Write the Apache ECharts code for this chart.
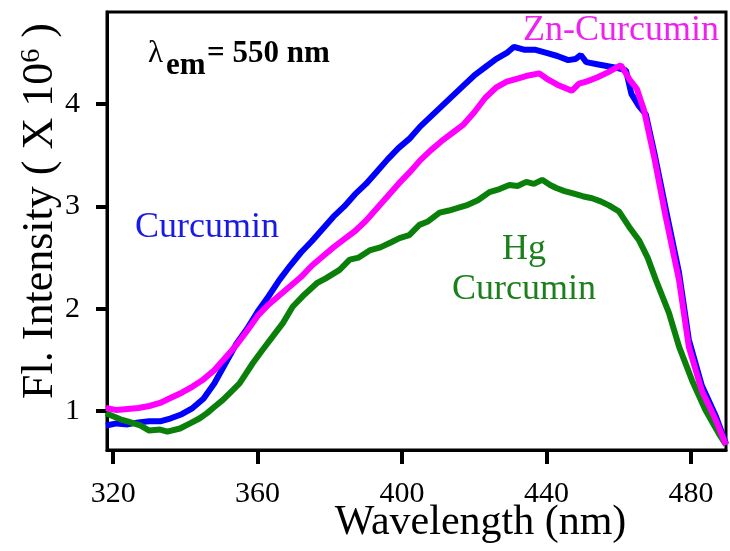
<!DOCTYPE html>
<html>
<head>
<meta charset="utf-8">
<script src="https://cdn.jsdelivr.net/npm/echarts@6/dist/echarts.min.js"></script>
<style>
  html, body { margin: 0; padding: 0; background: #fff; }
  #chart { width: 730px; height: 551px; }
</style>
</head>
<body>
<div id="chart"></div>
<script>
// tick labels
const xTicks = [320, 360, 400, 440, 480]
const yTicks = [1, 2, 3, 4]

// Curcumin (blue)
const curcuminWl = [318, 321, 324, 327, 330, 333, 336, 339, 342, 345, 348, 351, 354, 357, 360, 363, 366, 369, 372, 375, 378, 381, 384, 387, 390, 393, 396, 399, 402, 405, 408, 411, 414, 417, 420, 423, 426, 429, 431, 434, 437, 440, 443, 446, 448, 449.5, 451, 454, 457, 460, 462, 463.5, 465.6, 467.5, 470, 473, 476.7, 479.4, 483, 486.9, 489.7]
const curcuminVal = [0.86, 0.88, 0.87, 0.89, 0.9, 0.9, 0.93, 0.97, 1.03, 1.12, 1.27, 1.46, 1.65, 1.8, 1.97, 2.12, 2.28, 2.42, 2.55, 2.66, 2.78, 2.9, 3.0, 3.12, 3.22, 3.34, 3.46, 3.57, 3.66, 3.78, 3.88, 3.98, 4.08, 4.18, 4.28, 4.36, 4.44, 4.5, 4.56, 4.53, 4.53, 4.5, 4.47, 4.43, 4.44, 4.48, 4.41, 4.39, 4.37, 4.35, 4.33, 4.1, 3.98, 3.9, 3.5, 2.98, 2.35, 1.7, 1.25, 0.95, 0.68]

// Hg-Curcumin (green)
const hgWl = [318, 320, 322, 324, 327.5, 330, 333, 335, 338.5, 341.3, 344, 346, 348, 350.4, 353, 355, 358.7, 361.4, 364, 367, 369.7, 373, 376.4, 379, 382.7, 385.5, 388, 391, 394, 397, 399.3, 402, 404.8, 407, 410.4, 413, 415, 417.8, 421, 424.2, 427, 429.7, 432, 434.4, 436.5, 438.8, 441, 442.7, 445, 447.1, 450, 452.6, 455, 457.3, 460.1, 462.9, 465.6, 468, 470.3, 473.9, 476.7, 480.3, 484, 487.7, 489.7]
const hgVal = [0.98, 0.95, 0.92, 0.9, 0.86, 0.81, 0.82, 0.8, 0.83, 0.88, 0.93, 0.98, 1.04, 1.11, 1.2, 1.27, 1.47, 1.6, 1.72, 1.86, 2.02, 2.14, 2.25, 2.3, 2.38, 2.48, 2.5, 2.57, 2.6, 2.65, 2.69, 2.72, 2.82, 2.85, 2.94, 2.96, 2.98, 3.01, 3.06, 3.14, 3.17, 3.21, 3.2, 3.24, 3.22, 3.26, 3.21, 3.18, 3.15, 3.13, 3.1, 3.08, 3.05, 3.01, 2.95, 2.8, 2.67, 2.5, 2.28, 1.96, 1.63, 1.3, 1.01, 0.78, 0.67]

// Zn-Curcumin (magenta)
const znWl = [318, 321, 324, 327, 330, 333, 336, 339, 342, 345, 348, 351, 354, 357, 360, 363, 366, 369, 372, 375, 378, 381, 384, 387, 390, 393, 396, 399, 402, 405, 408, 411, 414, 417, 420, 423, 426, 429, 432, 435, 438, 440, 443, 445, 447, 449, 451, 454, 457, 460.6, 463, 465, 467, 470, 473, 476.7, 479.4, 483, 486.9, 489.7]
const znVal = [1.03, 1.01, 1.02, 1.03, 1.05, 1.08, 1.13, 1.18, 1.24, 1.31, 1.4, 1.52, 1.64, 1.78, 1.93, 2.04, 2.13, 2.22, 2.31, 2.42, 2.51, 2.6, 2.68, 2.76, 2.86, 2.98, 3.1, 3.22, 3.33, 3.45, 3.55, 3.64, 3.72, 3.8, 3.92, 4.06, 4.16, 4.22, 4.25, 4.28, 4.3, 4.25, 4.19, 4.16, 4.13, 4.2, 4.22, 4.26, 4.31, 4.38, 4.24, 4.15, 3.94, 3.45, 2.9, 2.28, 1.63, 1.2, 0.91, 0.67]

const pairs = (xs, ys) => xs.map((x, i) => [x, ys[i]])
const serif = 'Liberation Serif, Times New Roman, serif'

const chart = echarts.init(document.getElementById('chart'))
const options = {
  animation: false,
  backgroundColor: '#fff',
  grid: {
    left: 107,
    right: 4,
    top: 12,
    bottom: 101,
    outerBoundsMode: 'none',
    containLabel: false,
    show: true,
    borderColor: '#000',
    borderWidth: 3
  },
  xAxis: {
    type: 'value',
    min: 318.3,
    max: 489.7,
    axisLine: { show: true, lineStyle: { color: '#000', width: 3 } },
    splitLine: { show: false },
    axisTick: {
      show: true,
      length: 14,
      customValues: xTicks,
      lineStyle: { color: '#000', width: 4 }
    },
    axisLabel: {
      customValues: xTicks,
      margin: 29,
      color: '#000',
      fontFamily: serif,
      fontSize: 30
    },
    name: 'Wavelength (nm)',
    nameLocation: 'middle',
    nameGap: 52,
    nameMoveOverlap: false,
    nameTextStyle: {
      color: '#000',
      fontFamily: serif,
      fontSize: 42,
      padding: [0, 0, 0, 128]
    }
  },
  yAxis: {
    type: 'value',
    min: 0.62,
    max: 4.9,
    axisLine: { show: true, lineStyle: { color: '#000', width: 3 } },
    splitLine: { show: false },
    axisTick: {
      show: true,
      length: 11,
      customValues: yTicks,
      lineStyle: { color: '#000', width: 4 }
    },
    axisLabel: {
      customValues: yTicks,
      margin: 27,
      color: '#000',
      fontFamily: serif,
      fontSize: 30
    },
    name: 'Fl. Intensity ( X 10{sup|6} )',
    nameLocation: 'middle',
    nameGap: 45,
    nameRotate: 90,
    nameMoveOverlap: false,
    nameTextStyle: {
      color: '#000',
      fontFamily: serif,
      fontSize: 44,
      padding: [0, 0, 0, 40],
      rich: {
        sup: { fontFamily: serif, fontSize: 28, color: '#000', verticalAlign: 'top', padding: [0, 0, 14, 0] }
      }
    }
  },
  series: [
    {
      name: 'Curcumin',
      type: 'line',
      showSymbol: false,
      data: pairs(curcuminWl, curcuminVal),
      lineStyle: { color: '#0000ff', width: 6 },
      itemStyle: { color: '#0000ff' }
    },
    {
      name: 'Hg Curcumin',
      type: 'line',
      showSymbol: false,
      data: pairs(hgWl, hgVal),
      lineStyle: { color: '#0a7f0a', width: 6 },
      itemStyle: { color: '#0a7f0a' }
    },
    {
      name: 'Zn-Curcumin',
      type: 'line',
      showSymbol: false,
      data: pairs(znWl, znVal),
      lineStyle: { color: '#ff00ff', width: 6 },
      itemStyle: { color: '#ff00ff' }
    }
  ],
  graphic: [
    { type: 'text', x: 148, y: 54, style: { text: 'λ', font: '31px ' + serif, fill: '#000', verticalAlign: 'middle' } },
    { type: 'text', x: 166, y: 66, style: { text: 'em', font: 'bold 31px ' + serif, fill: '#000', verticalAlign: 'middle' } },
    { type: 'text', x: 207, y: 54, style: { text: '= 550 nm', font: 'bold 31px ' + serif, fill: '#000', verticalAlign: 'middle' } },
    { type: 'text', x: 523, y: 31, style: { text: 'Zn-Curcumin', font: '36px ' + serif, fill: '#ee22ee', verticalAlign: 'middle' } },
    { type: 'text', x: 135, y: 228, style: { text: 'Curcumin', font: '36px ' + serif, fill: '#1a1ae6', verticalAlign: 'middle' } },
    { type: 'text', x: 524, y: 250, style: { text: 'Hg', font: '36px ' + serif, fill: '#1b7f1b', align: 'center', verticalAlign: 'middle' } },
    { type: 'text', x: 524, y: 290, style: { text: 'Curcumin', font: '36px ' + serif, fill: '#1b7f1b', align: 'center', verticalAlign: 'middle' } }
  ]
}
chart.setOption(options)
window.addEventListener('resize', function () {
  chart.resize()
})
</script>
</body>
</html>
